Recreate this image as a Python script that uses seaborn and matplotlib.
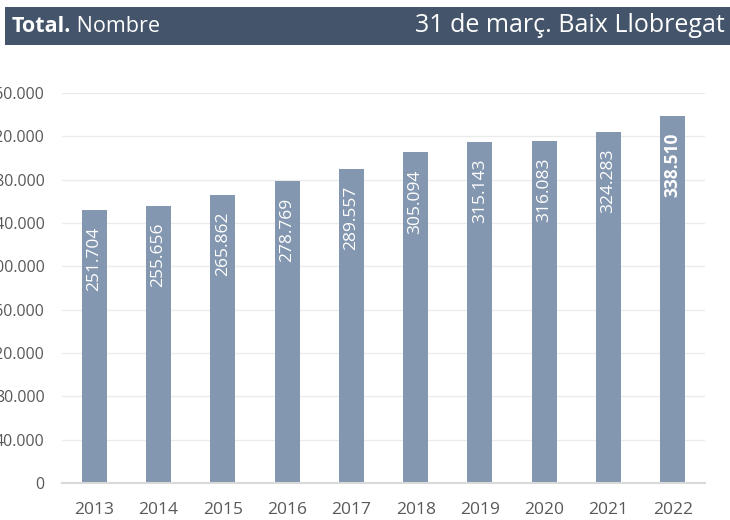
import matplotlib
matplotlib.use("Agg")
import matplotlib.pyplot as plt
import seaborn as sns
import pandas as pd
from matplotlib.patches import Rectangle

years = ["2013", "2014", "2015", "2016", "2017", "2018", "2019", "2020", "2021", "2022"]
values = [251704, 255656, 265862, 278769, 289557, 305094, 315143, 316083, 324283, 338510]
value_labels = ["251.704", "255.656", "265.862", "278.769", "289.557", "305.094",
                "315.143", "316.083", "324.283", "338.510"]
ytick_values = [0, 40000, 80000, 120000, 160000, 200000, 240000, 280000, 320000, 360000]
ytick_labels = ["0", "40.000", "80.000", "120.000", "160.000", "200.000",
                "240.000", "280.000", "320.000", "360.000"]
title_bold = "Total."
title_rest = " Nombre"
title_right = "31 de març. Baix Llobregat"

sns.set_theme(style="white")
plt.rcParams['font.family'] = ['Open Sans', 'DejaVu Sans']

df = pd.DataFrame({"year": years, "value": values})

fig = plt.figure(figsize=(7.3, 5.2), dpi=100)
W, H = 730, 520
ax = fig.add_axes([62 / W, 1 - 483 / H, (705 - 62) / W, (483 - 93) / H])

bar_color = "#8497B0"
sns.barplot(data=df, x="year", y="value", color=bar_color, width=0.39,
            saturation=1, ax=ax, edgecolor="none")

ax.set_ylim(0, 360000)
ax.set_xlim(-0.5, len(years) - 0.5)
ax.set_yticks(ytick_values)
ax.set_yticklabels(ytick_labels)
ax.yaxis.grid(True, color="#EBEBEB", linewidth=1)
ax.set_axisbelow(True)
for s in ["top", "right", "left"]:
    ax.spines[s].set_visible(False)
ax.spines["bottom"].set_color("#D9D9D9")
ax.spines["bottom"].set_linewidth(1.5)
ax.tick_params(axis="both", length=0, colors="#595959")
ax.tick_params(axis="x", labelsize=12.5, pad=13.5)
ax.tick_params(axis="y", labelsize=11.5, pad=12.5)
ax.set_xlabel("")
ax.set_ylabel("")

for i, (v, lab) in enumerate(zip(values, value_labels)):
    ax.text(i, v - 15500, lab, rotation=90, ha="center", va="top",
            color="white", fontsize=12.5,
            fontweight="bold" if i == len(values) - 1 else "normal")

# header band
fig.patches.append(Rectangle((5 / W, 1 - 45 / H), (730 - 5) / W, 38 / H,
                             transform=fig.transFigure, facecolor="#44546A",
                             edgecolor="none", zorder=0))
t1 = fig.text(12 / W, 1 - 26 / H, title_bold, color="white", fontsize=15.5,
              fontweight="bold", va="center", ha="left")
fig.canvas.draw()
bb = t1.get_window_extent()
fig.text(bb.x1 / W, 1 - 26 / H, title_rest, color="white", fontsize=15.5,
         va="center", ha="left")
fig.text(725 / W, 1 - 26 / H, title_right, color="white", fontsize=18,
         va="center", ha="right")

fig.savefig("out.png", dpi=100)
